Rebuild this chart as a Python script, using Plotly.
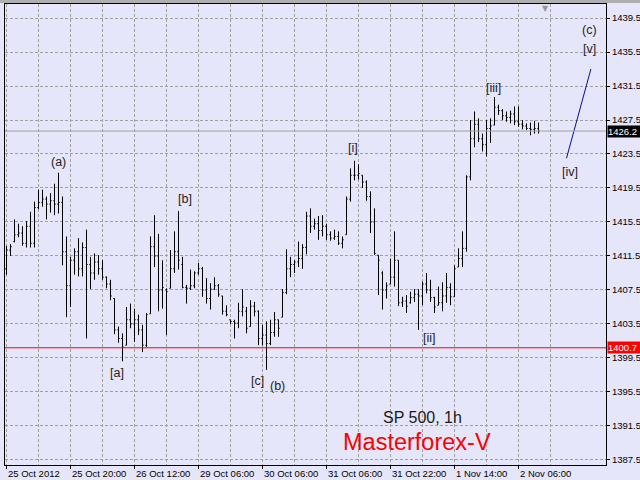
import plotly.graph_objects as go

# ---------------- data ----------------
bar_index = list(range(134))

highs = [1412.7, 1412.9, 1415.8, 1415.3, 1415.0, 1415.6, 1416.7, 1417.9, 1419.3, 1419.3,
         1418.5, 1418.9, 1420.0, 1421.3, 1418.5, 1413.8, 1411.4, 1412.4, 1413.6, 1413.1,
         1414.6, 1411.4, 1411.8, 1411.6, 1411.0, 1409.1, 1408.7, 1406.5, 1403.2, 1402.4,
         1405.5, 1405.9, 1405.3, 1404.6, 1403.4, 1404.8, 1413.8, 1416.3, 1414.1, 1411.0,
         1407.7, 1412.2, 1414.4, 1416.8, 1411.4, 1408.1, 1409.9, 1409.7, 1410.7, 1410.2,
         1408.9, 1408.3, 1409.0, 1408.2, 1406.8, 1405.7, 1404.0, 1404.0, 1406.0, 1407.6,
         1405.5, 1406.3, 1406.1, 1405.1, 1403.4, 1403.8, 1404.0, 1404.9, 1404.0, 1407.6,
         1412.3, 1411.4, 1411.0, 1413.2, 1412.9, 1416.7, 1417.1, 1415.9, 1416.2, 1416.3,
         1415.3, 1414.4, 1414.6, 1414.4, 1413.8, 1418.5, 1421.8, 1422.7, 1422.3, 1421.0,
         1420.4, 1419.1, 1417.1, 1411.6, 1409.7, 1408.4, 1411.2, 1414.4, 1411.0, 1406.7,
         1406.9, 1407.3, 1407.6, 1407.6, 1408.5, 1409.5, 1408.7, 1406.7, 1407.9, 1408.4,
         1409.5, 1408.3, 1410.4, 1412.4, 1414.4, 1421.0, 1427.5, 1428.5, 1427.7, 1425.9,
         1427.5, 1427.7, 1430.2, 1429.3, 1428.8, 1428.5, 1428.6, 1429.1, 1429.1, 1427.5,
         1427.1, 1427.2, 1427.4, 1427.2]

lows = [1409.3, 1411.5, 1413.1, 1413.7, 1412.7, 1412.5, 1412.5, 1412.5, 1417.0, 1417.3,
        1415.8, 1416.6, 1416.3, 1416.5, 1410.4, 1404.3, 1405.5, 1409.3, 1409.1, 1409.1,
        1401.8, 1407.6, 1408.7, 1409.3, 1408.7, 1407.7, 1406.3, 1402.3, 1401.3, 1399.1,
        1401.0, 1403.0, 1401.4, 1402.2, 1400.2, 1400.8, 1404.7, 1410.2, 1405.0, 1405.3,
        1402.2, 1407.7, 1409.5, 1409.9, 1407.7, 1405.9, 1407.5, 1407.7, 1409.3, 1406.7,
        1405.9, 1405.2, 1407.5, 1406.7, 1404.6, 1404.4, 1403.5, 1401.8, 1403.0, 1404.4,
        1402.4, 1403.2, 1404.4, 1401.0, 1401.0, 1398.1, 1401.0, 1402.0, 1402.0, 1404.3,
        1407.0, 1409.0, 1409.5, 1410.2, 1410.0, 1411.7, 1414.2, 1414.6, 1413.4, 1413.8,
        1413.4, 1413.3, 1413.4, 1412.8, 1412.4, 1414.0, 1417.9, 1420.4, 1420.5, 1419.5,
        1418.0, 1414.2, 1411.6, 1406.9, 1405.2, 1406.5, 1408.2, 1407.9, 1405.6, 1405.5,
        1404.8, 1405.9, 1406.1, 1402.8, 1405.7, 1407.1, 1406.1, 1404.8, 1405.7, 1405.0,
        1406.0, 1405.7, 1406.7, 1410.2, 1410.2, 1412.0, 1420.4, 1424.3, 1424.9, 1423.8,
        1423.2, 1424.8, 1426.9, 1428.1, 1427.5, 1427.3, 1427.1, 1426.9, 1426.7, 1426.4,
        1426.3, 1425.7, 1425.9, 1425.9]

opens = [1410.0, 1412.2, 1413.2, 1414.0, 1414.2, 1413.0, 1415.0, 1413.0, 1417.2, 1417.8,
         1418.2, 1417.6, 1418.0, 1417.6, 1417.8, 1412.0, 1408.0, 1411.0, 1412.0, 1410.0,
         1412.5, 1410.5, 1409.5, 1410.8, 1410.0, 1409.0, 1408.2, 1406.5, 1402.8, 1401.8,
         1401.0, 1404.0, 1403.5, 1404.0, 1402.8, 1401.0, 1404.7, 1412.6, 1411.5, 1407.5,
         1407.5, 1407.7, 1410.0, 1412.0, 1410.5, 1407.8, 1407.7, 1408.0, 1409.5, 1410.0,
         1407.5, 1406.5, 1407.6, 1408.0, 1406.8, 1405.0, 1404.0, 1403.8, 1403.6, 1405.0,
         1405.0, 1403.2, 1405.6, 1405.0, 1401.8, 1402.2, 1401.2, 1402.5, 1404.0, 1404.3,
         1407.2, 1410.0, 1410.5, 1410.8, 1411.2, 1412.5, 1416.2, 1415.0, 1415.3, 1414.5,
         1415.0, 1414.0, 1413.6, 1413.8, 1413.0, 1414.0, 1418.2, 1421.0, 1421.0, 1421.0,
         1420.2, 1418.5, 1415.5, 1411.6, 1409.5, 1407.5, 1408.2, 1409.0, 1411.0, 1406.0,
         1406.2, 1406.0, 1406.6, 1407.0, 1406.8, 1408.2, 1407.5, 1406.6, 1405.7, 1406.0,
         1406.8, 1407.8, 1406.7, 1410.2, 1411.2, 1412.4, 1420.8, 1425.3, 1427.0, 1425.3,
         1424.6, 1426.5, 1426.9, 1429.0, 1428.6, 1428.0, 1427.8, 1428.2, 1427.3, 1427.0,
         1426.8, 1426.5, 1426.4, 1426.5]

closes = [1412.2, 1412.6, 1414.0, 1414.2, 1413.0, 1415.0, 1413.0, 1417.2, 1417.8, 1418.2,
          1417.6, 1418.0, 1417.6, 1417.8, 1412.0, 1408.0, 1411.0, 1412.0, 1410.0, 1412.5,
          1410.5, 1409.5, 1410.8, 1410.0, 1409.0, 1408.2, 1406.8, 1402.8, 1401.8, 1400.8,
          1404.0, 1403.5, 1404.0, 1402.8, 1401.0, 1404.6, 1412.6, 1411.5, 1407.5, 1407.8,
          1407.3, 1410.0, 1412.0, 1411.0, 1407.8, 1407.7, 1408.0, 1409.5, 1410.0, 1407.5,
          1406.5, 1407.6, 1408.0, 1407.0, 1405.0, 1404.6, 1403.8, 1403.6, 1405.0, 1405.5,
          1403.0, 1405.6, 1405.0, 1401.8, 1402.2, 1401.2, 1402.5, 1404.0, 1403.0, 1407.2,
          1410.0, 1410.5, 1410.8, 1411.2, 1412.5, 1416.2, 1415.0, 1415.3, 1414.5, 1415.0,
          1414.0, 1413.6, 1413.8, 1413.0, 1413.4, 1418.2, 1421.0, 1421.0, 1421.2, 1420.2,
          1418.5, 1415.5, 1411.8, 1411.0, 1407.5, 1408.0, 1409.0, 1411.0, 1406.0, 1406.2,
          1405.6, 1406.6, 1407.0, 1406.8, 1408.2, 1407.5, 1406.6, 1405.5, 1406.0, 1406.8,
          1407.8, 1406.7, 1410.0, 1411.2, 1412.4, 1420.8, 1425.3, 1427.0, 1425.3, 1424.6,
          1426.5, 1426.8, 1429.0, 1428.6, 1428.0, 1427.8, 1428.2, 1427.3, 1427.0, 1426.8,
          1426.5, 1426.4, 1426.5, 1426.2]

date_label_bars = [0, 16, 32, 48, 64, 80, 96, 112, 128]
date_labels = ["25 Oct 2012", "25 Oct 20:00", "26 Oct 12:00", "29 Oct 06:00",
               "30 Oct 06:00", "31 Oct 06:00", "31 Oct 22:00", "1 Nov 14:00", "2 Nov 06:00"]
grid_bars = [8, 24, 40, 56, 72, 88, 104, 120, 136]

price_ticks = [1387.5, 1391.5, 1395.5, 1399.5, 1403.5, 1407.5, 1411.5, 1415.5,
               1419.5, 1423.5, 1427.5, 1431.5, 1435.5, 1439.5]

support_level = 1400.7
bid_price = 1426.2

projection_bars = [140.0, 146.1]
projection_values = [1423.0, 1433.5]

wave_labels = ["(a)", "[b]", "[a]", "[c]", "(b)", "[i]", "[ii]", "[iii]", "[iv]", "(c)", "[v]"]
wave_bars = [12.9, 44.7, 27.7, 62.8, 67.8, 86.7, 105.8, 121.8, 140.9, 145.8, 145.8]
wave_values = [1422.6, 1418.2, 1397.7, 1396.8, 1396.2, 1424.2, 1401.8, 1431.3, 1421.4, 1438.1, 1435.8]

x_range = [-0.375, 149.875]
y_range = [1386.91, 1441.147]

# ---------------- figure ----------------
BG = "rgb(230,230,250)"
GRID = "rgb(160,160,160)"
FONT = "Liberation Sans"

fig = go.Figure()

fig.add_trace(go.Ohlc(
    x=bar_index, open=opens, high=highs, low=lows, close=closes,
    increasing=dict(line=dict(color="black", width=1)),
    decreasing=dict(line=dict(color="black", width=1)),
    tickwidth=0.3, showlegend=False, hoverinfo="skip"))

fig.add_trace(go.Scatter(
    x=projection_bars, y=projection_values, mode="lines",
    line=dict(color="rgb(10,10,160)", width=1), showlegend=False, hoverinfo="skip"))

fig.add_hline(y=support_level, line=dict(color="rgb(255,0,0)", width=1))
fig.add_hline(y=bid_price, line=dict(color="rgb(160,160,160)", width=1))

# thin grey window band above the chart frame
fig.add_shape(type="rect", xref="paper", yref="paper", x0=-0.02, x1=1.1,
              y0=1 + 1.0 / 461, y1=1 + 5.0 / 461, line=dict(width=0),
              fillcolor="rgb(175,175,175)", layer="below")

annotations = []
for lab, xb, yv in zip(wave_labels, wave_bars, wave_values):
    annotations.append(dict(x=xb, y=yv, xref="x", yref="y", text=lab, showarrow=False,
                            font=dict(family=FONT, size=12.5, color="#222222")))

for lab, xb in zip(date_labels, date_label_bars):
    annotations.append(dict(x=xb, y=0, xref="x", yref="paper", text=lab, showarrow=False,
                            xanchor="left", yanchor="top", yshift=-1, xshift=-1,
                            font=dict(family=FONT, size=9.5, color="black")))

annotations.append(dict(x=1, y=bid_price, xref="paper", yref="y", text="1426.2", showarrow=False,
                        xanchor="left", yanchor="middle", xshift=1, bgcolor="black", borderpad=0,
                        width=33, align="left",
                        font=dict(family=FONT, size=9.5, color="white")))
annotations.append(dict(x=1, y=support_level, xref="paper", yref="y", text="1400.7", showarrow=False,
                        xanchor="left", yanchor="middle", xshift=1, bgcolor="rgb(255,0,0)", borderpad=0,
                        width=33, align="left",
                        font=dict(family=FONT, size=9.5, color="white")))

annotations.append(dict(x=104.0, y=1392.5, xref="x", yref="y", text="SP 500, 1h", showarrow=False,
                        font=dict(family=FONT, size=16, color="#1a1a1a")))
annotations.append(dict(x=102.7, y=1389.6, xref="x", yref="y", text="Masterforex-V", showarrow=False,
                        font=dict(family=FONT, size=23.5, color="rgb(255,0,0)")))
annotations.append(dict(x=134.7, y=1, xref="x", yref="paper", text="▼", showarrow=False,
                        yanchor="top", yshift=2,
                        font=dict(family="DejaVu Sans", size=8, color="rgb(150,150,150)")))

fig.update_layout(
    template="none",
    width=640, height=480,
    margin=dict(l=5, r=34, t=4, b=15, pad=0, autoexpand=False),
    paper_bgcolor=BG, plot_bgcolor=BG,
    annotations=annotations,
    font=dict(family=FONT, size=9.5, color="black"),
    showlegend=False,
    xaxis=dict(range=x_range, rangeslider=dict(visible=False), automargin=False,
               tickvals=date_label_bars, showticklabels=False,
               ticks="outside", ticklen=3, tickcolor="black",
               showgrid=True, gridcolor=GRID, griddash="3px,2px", gridwidth=1,
               minor=dict(tickvals=grid_bars, showgrid=True, gridcolor=GRID,
                          griddash="3px,2px", ticks=""),
               showline=True, linecolor="black", linewidth=1, mirror=True,
               zeroline=False, fixedrange=True),
    yaxis=dict(range=y_range, side="right", tickvals=price_ticks, automargin=False,
               ticktext=[f"{v:.1f}" for v in price_ticks],
               ticks="outside", ticklen=3, tickcolor="black",
               tickfont=dict(family=FONT, size=9.5, color="black"),
               showgrid=True, gridcolor=GRID, griddash="3px,2px", gridwidth=1,
               showline=True, linecolor="black", linewidth=1, mirror=True,
               zeroline=False, fixedrange=True),
)

fig.write_html("out.html", config={"displayModeBar": False},
               post_script="document.body.style.margin='0px';document.body.style.overflow='hidden';")
